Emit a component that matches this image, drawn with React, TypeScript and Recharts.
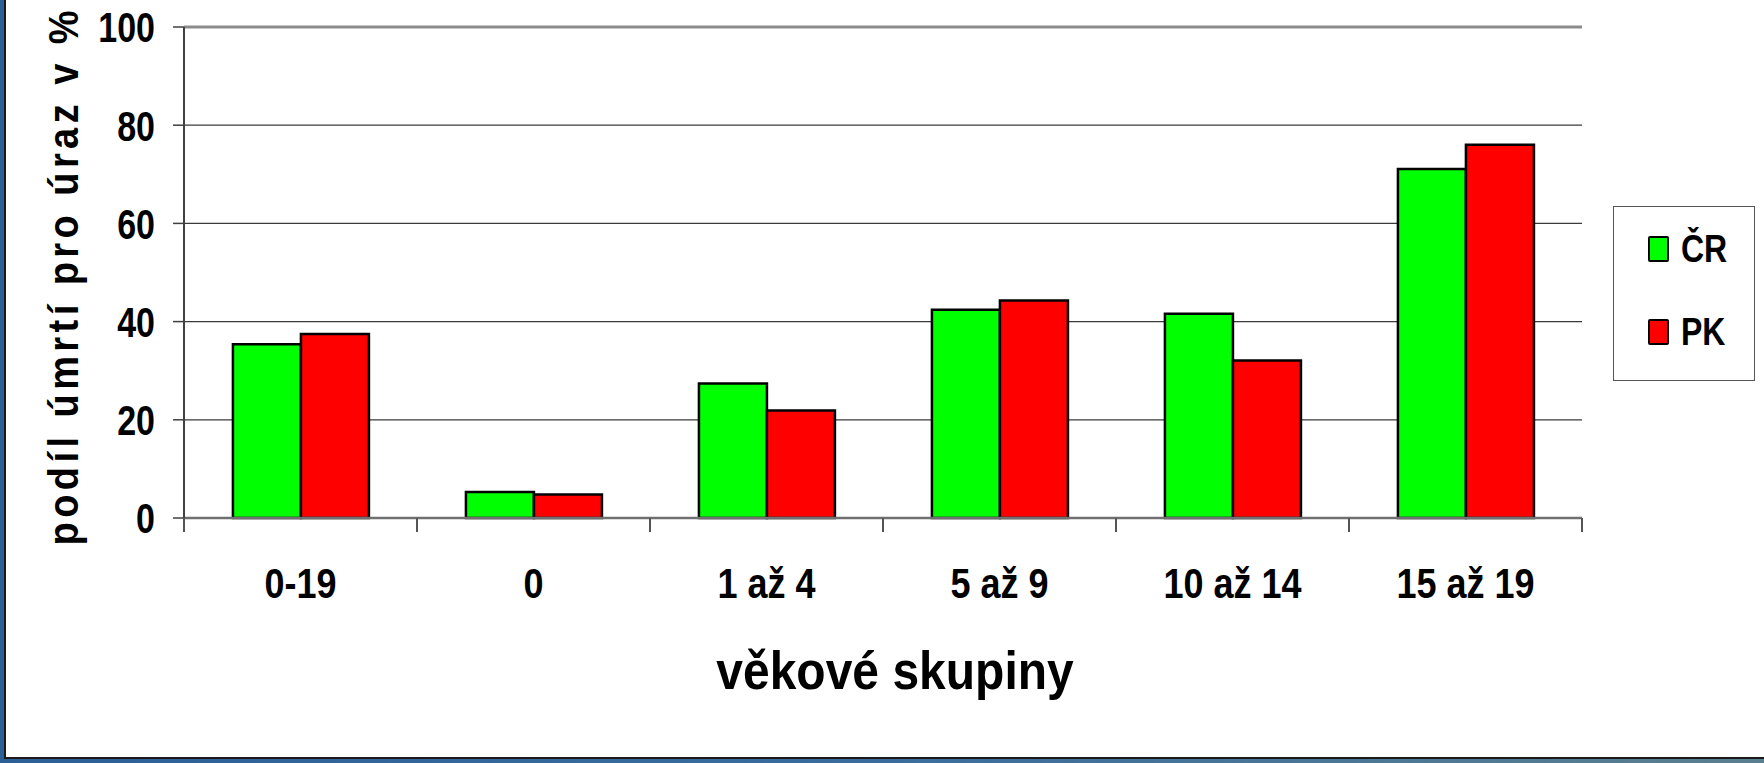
import { BarChart, Bar, XAxis, YAxis, CartesianGrid, ReferenceLine } from 'recharts'

// age groups and share of injury deaths (%)
const categories = ['0-19', '0', '1 až 4', '5 až 9', '10 až 14', '15 až 19']
const crValues = [35.4, 5.3, 27.4, 42.4, 41.6, 71.1]
const pkValues = [37.5, 4.8, 21.9, 44.3, 32.1, 76.0]
const yTicks = [0, 20, 40, 60, 80, 100]

const SERIES = [
  { key: 'cr', name: 'ČR', color: '#00ff00' },
  { key: 'pk', name: 'PK', color: '#ff0000' },
]

const FONT = '"Liberation Sans", Arial, Helvetica, sans-serif'

const data = categories.map((name, i) => ({
  name,
  cr: crValues[i],
  pk: pkValues[i],
}))

function YTick({ x, y, payload }: any) {
  return (
    <text
      transform={`translate(${x},${y}) scale(1,1.25)`}
      textAnchor="end"
      dy="0.36em"
      fontSize={34}
      fontWeight="bold"
      fontFamily={FONT}
      fill="#000"
    >
      {payload.value}
    </text>
  )
}

function XTick({ x, y, payload, index, width }: any) {
  const half = payload.offset ?? width / categories.length / 2
  return (
    <g>
      <line x1={x - half} x2={x - half} y1={y} y2={y + 14} stroke="#555" strokeWidth={2} />
      {index === categories.length - 1 && (
        <line x1={x + half} x2={x + half} y1={y} y2={y + 14} stroke="#555" strokeWidth={2} />
      )}
      <text
        transform={`translate(${x},${y + 64}) scale(1,1.2)`}
        textAnchor="middle"
        dy="0.36em"
        fontSize={36}
        fontWeight="bold"
        fontFamily={FONT}
        fill="#000"
      >
        {payload.value}
      </text>
    </g>
  )
}

const YTitle = () => (
  <text
    transform="translate(78,278) rotate(-90) scale(1,1.12)"
    textAnchor="middle"
    textLength={535}
    lengthAdjust="spacing"
    fontSize={38}
    fontWeight="bold"
    fontFamily={FONT}
    fill="#000"
  >
    podíl úmrtí pro úraz v %
  </text>
)

const XTitle = () => (
  <text
    transform="translate(895,689) scale(1,1.12)"
    textAnchor="middle"
    fontSize={48}
    fontWeight="bold"
    fontFamily={FONT}
    fill="#000"
  >
    věkové skupiny
  </text>
)

function ChartLegend() {
  return (
    <div
      style={{
        position: 'absolute',
        left: 1613,
        top: 206,
        width: 142,
        height: 175,
        boxSizing: 'border-box',
        border: '1.5px solid #555',
        background: '#fff',
      }}
    >
      {SERIES.map((s, i) => (
        <div
          key={s.key}
          style={{
            position: 'absolute',
            left: 34,
            top: 29 + i * 83,
            display: 'flex',
            alignItems: 'center',
          }}
        >
          <div
            style={{
              width: 21,
              height: 26,
              boxSizing: 'border-box',
              border: '2.5px solid #000',
              borderRadius: 2,
              background: s.color,
            }}
          />
          <span
            style={{
              marginLeft: 12,
              fontFamily: FONT,
              fontWeight: 'bold',
              fontSize: 32,
              lineHeight: '26px',
              display: 'inline-block',
              transform: 'scaleY(1.2)',
            }}
          >
            {s.name}
          </span>
        </div>
      ))}
    </div>
  )
}

export default function App() {
  return (
    <div
      style={{
        position: 'absolute',
        left: 0,
        top: 0,
        width: 1764,
        height: 763,
        overflow: 'hidden',
        background: 'linear-gradient(90deg, #2c5f96, #3a6d9e 50%, #5a7f8f)',
      }}
    >
      <div
        style={{
          position: 'absolute',
          left: 4,
          top: 0,
          width: 1762,
          height: 759,
          boxSizing: 'border-box',
          background: '#fff',
          borderLeft: '2px solid #1a1a1a',
          borderBottom: '2px solid #1a1a1a',
        }}
      />
      <div style={{ position: 'absolute', left: 0, top: 0 }}>
        <BarChart
          width={1764}
          height={763}
          data={data}
          margin={{ top: 27, right: 182, left: 0, bottom: 125 }}
          barCategoryGap="21%"
          barGap={0}
        >
          <CartesianGrid vertical={false} stroke="#3a3a3a" strokeWidth={1.2} />
          <XAxis
            dataKey="name"
            height={120}
            interval={0}
            tickSize={0}
            tickMargin={0}
            tickLine={false}
            axisLine={{ stroke: '#707070', strokeWidth: 2.5 }}
            tick={<XTick />}
            label={{ content: <XTitle /> }}
          />
          <YAxis
            width={184}
            domain={[0, 100]}
            ticks={yTicks}
            interval={0}
            tickSize={11}
            tickMargin={18}
            tickLine={{ stroke: '#404040', strokeWidth: 1.5 }}
            axisLine={{ stroke: '#404040', strokeWidth: 2 }}
            tick={<YTick />}
            label={{ content: <YTitle /> }}
          />
          <YAxis
            yAxisId="right"
            orientation="right"
            width={0}
            domain={[0, 100]}
            tick={false}
            tickLine={false}
            axisLine={{ stroke: '#8c8c8c', strokeWidth: 3 }}
          />
          <ReferenceLine y={100} stroke="#8c8c8c" strokeWidth={3} />
          {SERIES.map((s) => (
            <Bar
              key={s.key}
              dataKey={s.key}
              name={s.name}
              fill={s.color}
              stroke="#000"
              strokeWidth={2.5}
              isAnimationActive={false}
            />
          ))}
        </BarChart>
      </div>
      <ChartLegend />
    </div>
  )
}
